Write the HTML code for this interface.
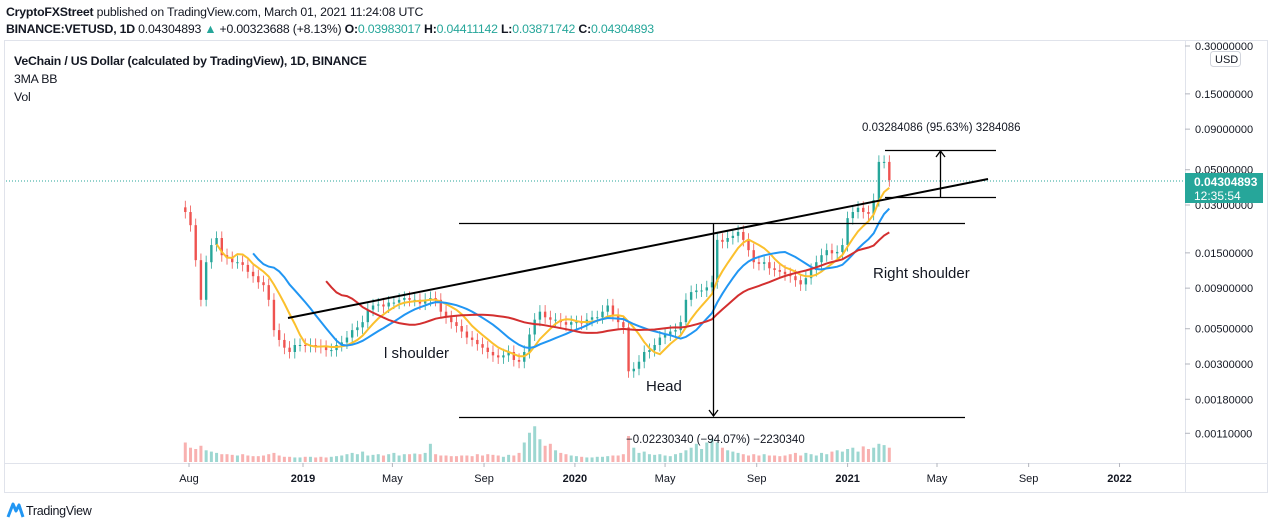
<!DOCTYPE html>
<html><head><meta charset="utf-8">
<style>
html,body{margin:0;padding:0;background:#fff;}
body{width:1274px;height:528px;overflow:hidden;position:relative;font-family:"Liberation Sans",sans-serif;color:#131722;}
.hdr{position:absolute;left:6px;font-size:12.3px;white-space:nowrap;letter-spacing:-0.2px;}
.teal{color:#26a69a;}
</style></head><body>
<div class="hdr" style="top:5px"><b>CryptoFXStreet</b> published on TradingView.com, March 01, 2021 11:24:08 UTC</div>
<div class="hdr" style="top:22px"><b>BINANCE:VETUSD, 1D</b> 0.04304893 <span class="teal">▲</span> +0.00323688 (+8.13%) <b>O:</b><span class="teal">0.03983017</span> <b>H:</b><span class="teal">0.04411142</span> <b>L:</b><span class="teal">0.03871742</span> <b>C:</b><span class="teal">0.04304893</span></div>
<svg id="chart" width="1274" height="528" style="position:absolute;left:0;top:0">
<rect x="4.5" y="40.5" width="1263" height="452" fill="none" stroke="#e0e3eb"/>
<line x1="1185.5" y1="40" x2="1185.5" y2="492" stroke="#e0e3eb"/>
<line x1="4" y1="463.5" x2="1268" y2="463.5" stroke="#e0e3eb"/>
<g id="vol"></g>
<g id="candles"></g>
<g id="mas"></g>
<g id="yaxis"></g>
<g id="xaxis"></g>
<line x1="6" y1="181" x2="1185" y2="181" stroke="#26a69a" stroke-dasharray="1,2"/>
<g>
<line x1="288" y1="318" x2="988" y2="179" stroke="#000" stroke-width="2"/>
<line x1="459" y1="223.5" x2="965" y2="223.5" stroke="#000" stroke-width="1.3"/>
<line x1="459" y1="417.5" x2="965" y2="417.5" stroke="#000" stroke-width="1.3"/>
<line x1="713.5" y1="224" x2="713.5" y2="416" stroke="#000" stroke-width="1.3"/>
<polyline points="709,410 713.5,416 718,410" fill="none" stroke="#000" stroke-width="1.3"/>
<line x1="885" y1="150.5" x2="996" y2="150.5" stroke="#000" stroke-width="1.3"/>
<line x1="885" y1="197.5" x2="996" y2="197.5" stroke="#000" stroke-width="1.3"/>
<line x1="940.5" y1="197" x2="940.5" y2="151" stroke="#000" stroke-width="1.3"/>
<polyline points="936,157 940.5,151 945,157" fill="none" stroke="#000" stroke-width="1.3"/>
<text x="862" y="131" font-size="11.5" fill="#131722">0.03284086 (95.63%) 3284086</text>
<text x="626" y="443" font-size="11.5" fill="#131722">−0.02230340 (−94.07%) −2230340</text>
<text x="384" y="358" font-size="15" fill="#131722">l shoulder</text>
<text x="646" y="391" font-size="15" fill="#131722">Head</text>
<text x="873" y="278" font-size="15" fill="#131722">Right shoulder</text>
</g>
<rect x="1185" y="173" width="78" height="30" fill="#26a69a"/>
<text x="1194" y="186" font-size="12" font-weight="bold" fill="#fff">0.04304893</text>
<text x="1194" y="200" font-size="12" fill="#fff">12:35:54</text>
<rect x="1210.5" y="51.5" width="30" height="15" rx="3" fill="#fff" stroke="#d1d4dc"/>
<text x="1215" y="63" font-size="11" fill="#131722">USD</text>
<g>
<path d="M8 517 L13 504 L16 511 L19 505 L23 517" fill="none" stroke="#2196f3" stroke-width="3" stroke-linejoin="round"/>
<text x="26" y="515" font-size="12.5" fill="#131722" letter-spacing="-0.3">TradingView</text>
</g>
</svg>
<div style="position:absolute;left:14px;top:52px;font-size:12.3px;line-height:18px;letter-spacing:-0.2px">
<div><b>VeChain / US Dollar (calculated by TradingView), 1D, BINANCE</b></div>
<div>3MA BB</div>
<div>Vol</div>
</div>
<script>
// weekly data starting 2018-07-27
const startDate = "2018-07-27";
const closes = [.0271,.0224,.0135,.0076,.0131,.0168,.0186,.0145,.0139,.0131,.0131,.0126,.0114,.0107,.0098,.0094,.0076,.0049,.00425,.0038,.00357,.00395,.00395,.0039,.00395,.0039,.00384,.00367,.00367,.00395,.0041,.0044,.0049,.0051,.0055,.0066,.0070,.0071,.0069,.0073,.0073,.0076,.0078,.0076,.0076,.0072,.0076,.0078,.0076,.0064,.0059,.0055,.0052,.0048,.0044,.00425,.0040,.0038,.00357,.0034,.0033,.0034,.00357,.00318,.0031,.00357,.0046,.0057,.0064,.0059,.0057,.0057,.0055,.0053,.0055,.0055,.0054,.0057,.0059,.0059,.0064,.0070,.0061,.0055,.0051,.0027,.0028,.0031,.00357,.00367,.00395,.0044,.0046,.0048,.0049,.0055,.0076,.0085,.0087,.0087,.0091,.0098,.0181,.0176,.0186,.0192,.0203,.0181,.0156,.0131,.0128,.0131,.0120,.0117,.0114,.0110,.0107,.0101,.0095,.0104,.0117,.0131,.0145,.0156,.0149,.0152,.0168,.0248,.0271,.0288,.0271,.0264,.0322,.0560,.0560,.0430];
const firstOpen = 0.0290;
const volumes = [30,22,20,25,18,16,14,12,12,11,10,12,10,9,9,10,12,14,10,8,8,7,7,8,8,7,8,7,8,9,10,12,14,12,16,10,11,12,10,12,14,10,12,12,13,12,14,28,12,10,10,9,9,10,10,9,12,10,12,11,10,8,11,10,14,30,45,55,35,25,28,18,14,12,10,9,8,7,7,8,8,9,10,10,12,40,22,14,16,12,11,12,10,9,12,14,18,22,28,20,30,35,30,22,18,16,14,12,10,12,10,12,10,10,9,10,12,14,10,14,12,10,14,12,16,18,16,20,22,16,24,20,22,28,26,22];
const priceTicks = [0.3,0.15,0.09,0.05,0.03,0.015,0.009,0.005,0.003,0.0018,0.0011];
const timeTickLabels = ["Aug","2019","May","Sep","2020","May","Sep","2021","May","Sep","2022"];
const timeTickDates = ["2018-08-01","2019-01-01","2019-05-01","2019-09-01","2020-01-01","2020-05-01","2020-09-01","2021-01-01","2021-05-01","2021-09-01","2022-01-01"];
const maPeriods = [7,14,28];
const maColors = ["#fbc02d","#2196f3","#d32f2f"];

const NS="http://www.w3.org/2000/svg";
const day=86400000, ref=Date.parse("2019-01-01");
function xOfDate(s){return 303+(Date.parse(s)-ref)/day*0.745;}
const x0=xOfDate(startDate);
function xOfIdx(i){return x0+i*7*0.745;}
function yOfPrice(p){return 46+(Math.log10(0.3)-Math.log10(p))*159;}
function yOfVol(v){return 462-v*0.65;}
function mk(tag,attrs,parent){const e=document.createElementNS(NS,tag);for(const k in attrs)e.setAttribute(k,attrs[k]);parent.appendChild(e);return e;}

const gC=document.getElementById('candles'),gV=document.getElementById('vol'),gM=document.getElementById('mas');
closes.forEach((c,i)=>{
  const o=i===0?firstOpen:closes[i-1];
  const up=c>=o, col=up?"#26a69a":"#ef5350";
  const x=xOfIdx(i);
  const hi=Math.max(o,c)*1.1, lo=Math.min(o,c)*0.91;
  const w=mk('line',{x1:x,x2:x,y1:yOfPrice(hi),y2:yOfPrice(lo),stroke:col,'stroke-width':0.8},gC);
  
  
  const yt=yOfPrice(Math.max(o,c)),yb=yOfPrice(Math.min(o,c));
  const b=mk('rect',{x:x-1.2,y:yt,width:2.4,height:Math.max(1,yb-yt),fill:col},gC);
  
  
  const v=mk('rect',{x:x-1.5,y:yOfVol(volumes[i]),width:3,height:462-yOfVol(volumes[i]),fill:col,opacity:0.45},gV);
  
  
});
maPeriods.forEach((n,k)=>{
  const pts=[];
  for(let i=n-1;i<closes.length;i++){let s=0;for(let j=i-n+1;j<=i;j++)s+=closes[j];pts.push(xOfIdx(i).toFixed(1)+","+yOfPrice(s/n).toFixed(1));}
  const pl=mk('polyline',{points:pts.join(" "),fill:"none",stroke:maColors[k],'stroke-width':2},gM);
  
  
});
const gY=document.getElementById('yaxis');
priceTicks.forEach(p=>{
  const y=yOfPrice(p);
  const t=mk('line',{x1:1185,x2:1190,y1:y,y2:y,stroke:"#b2b5be"},gY);
  
  
  const tx=mk('text',{x:1195,y:y+4,'font-size':11,fill:"#131722"},gY);
  tx.textContent=p.toFixed(8);
  
  
});
const gX=document.getElementById('xaxis');
timeTickLabels.forEach((l,i)=>{
  const x=xOfDate(timeTickDates[i]);
  const t=mk('line',{x1:x,x2:x,y1:463,y2:467,stroke:"#b2b5be"},gX);
  
  
  const tx=mk('text',{x:x,y:482,'font-size':11,fill:"#131722",'text-anchor':'middle','font-weight':/^\d/.test(l)?'bold':'normal'},gX);
  tx.textContent=l;
  
  
});
</script>
</body></html>
